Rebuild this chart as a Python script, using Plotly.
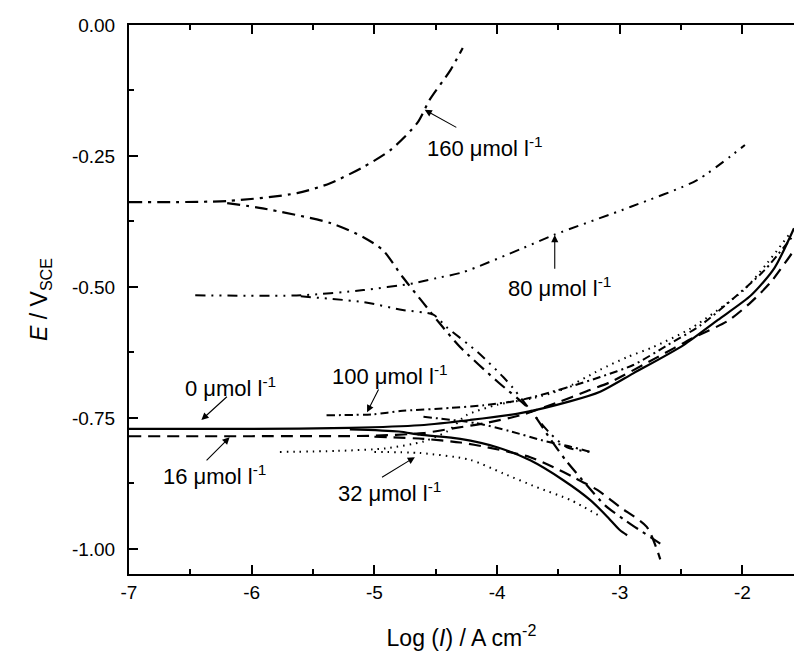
import plotly.graph_objects as go

# ---------------- data (log I / A cm-2 , E / V_SCE) ----------------
# 0 umol/l  (solid)
c0_an_x = [-7.0, -6.0, -5.2, -4.63, -4.22, -3.81, -3.40, -3.16, -2.89, -2.48, -2.20, -1.93, -1.74, -1.58]
c0_an_y = [-0.771, -0.771, -0.769, -0.764, -0.754, -0.741, -0.718, -0.700, -0.665, -0.611, -0.563, -0.516, -0.464, -0.388]
c0_ca_x = [-5.2, -4.8, -4.63, -4.3, -4.0, -3.73, -3.46, -3.24, -3.1, -3.0, -2.94]
c0_ca_y = [-0.772, -0.776, -0.782, -0.790, -0.806, -0.831, -0.869, -0.907, -0.939, -0.964, -0.974]

# 16 umol/l (long dash)
c16_an_x = [-7.0, -6.0, -5.0, -4.6, -4.36, -4.1, -3.81, -3.5, -3.27, -3.08, -2.7, -2.40, -2.12, -1.93, -1.77, -1.58]
c16_an_y = [-0.785, -0.785, -0.784, -0.779, -0.770, -0.760, -0.745, -0.720, -0.699, -0.682, -0.635, -0.597, -0.565, -0.529, -0.491, -0.430]
c16_ca_x = [-5.0, -4.6, -4.3, -4.08, -3.73, -3.54, -3.38, -3.18, -3.0, -2.78, -2.67]
c16_ca_y = [-0.786, -0.790, -0.797, -0.806, -0.825, -0.844, -0.863, -0.888, -0.920, -0.958, -1.02]

# 32 umol/l (dotted)
c32_an_x = [-5.77, -5.3, -4.9, -4.6, -4.4, -4.25, -4.0, -3.7, -3.46, -3.16, -2.94, -2.73, -2.42, -1.99, -1.80, -1.62]
c32_an_y = [-0.815, -0.813, -0.808, -0.795, -0.775, -0.745, -0.725, -0.712, -0.695, -0.658, -0.634, -0.615, -0.579, -0.506, -0.455, -0.400]
c32_ca_x = [-5.0, -4.63, -4.22, -3.95, -3.68, -3.40, -3.18]
c32_ca_y = [-0.815, -0.817, -0.830, -0.856, -0.882, -0.907, -0.935]

# 80 umol/l (dash-dot-dot)
c80_an_x = [-6.46, -5.6, -5.09, -4.68, -4.49, -4.28, -3.79, -3.54, -2.91, -2.37, -1.98]
c80_an_y = [-0.516, -0.516, -0.506, -0.493, -0.483, -0.472, -0.426, -0.401, -0.347, -0.296, -0.229]
c80_ca_x = [-5.6, -5.09, -4.77, -4.52, -4.41, -4.16, -3.95, -3.87, -3.73, -3.57, -3.43, -3.24]
c80_ca_y = [-0.518, -0.529, -0.544, -0.553, -0.577, -0.624, -0.672, -0.693, -0.735, -0.779, -0.806, -0.815]

# 100 umol/l (dash-dot)
c100_an_x = [-5.39, -5.0, -4.79, -4.38, -4.11, -3.81, -3.40, -3.16, -2.89, -2.61, -2.34, -2.07, -1.82, -1.58]
c100_an_y = [-0.745, -0.743, -0.737, -0.731, -0.726, -0.716, -0.690, -0.672, -0.649, -0.611, -0.573, -0.521, -0.468, -0.400]
c100_ca_x = [-4.6, -4.17, -3.9, -3.6, -3.4, -3.24]
c100_ca_y = [-0.748, -0.760, -0.775, -0.795, -0.805, -0.815]

# 160 umol/l (dash-dot)
c160_an_x = [-7.0, -6.2, -5.63, -5.36, -5.09, -4.87, -4.65, -4.55, -4.38, -4.28]
c160_an_y = [-0.338, -0.336, -0.321, -0.302, -0.271, -0.239, -0.187, -0.143, -0.086, -0.044]
c160_ca_x = [-6.2, -5.91, -5.36, -5.09, -4.93, -4.77, -4.60, -4.47, -4.30, -4.0, -3.73, -3.57, -3.44, -3.27, -3.12, -2.96, -2.67]
c160_ca_y = [-0.340, -0.350, -0.378, -0.405, -0.430, -0.481, -0.531, -0.569, -0.615, -0.680, -0.735, -0.789, -0.831, -0.878, -0.917, -0.945, -0.990]

labels = ["0 μmol l<sup>-1</sup>", "16 μmol l<sup>-1</sup>", "32 μmol l<sup>-1</sup>",
          "80 μmol l<sup>-1</sup>", "100 μmol l<sup>-1</sup>", "160 μmol l<sup>-1</sup>"]
label_x = [-6.17, -6.30, -4.88, -3.49, -4.87, -4.10]
label_y = [-0.691, -0.859, -0.892, -0.500, -0.668, -0.233]
arrow_tail_x = [-6.19, -6.38, -4.95, -3.53, -4.96, -4.32]
arrow_tail_y = [-0.707, -0.834, -0.865, -0.468, -0.693, -0.197]
arrow_head_x = [-6.41, -6.18, -4.67, -3.53, -5.06, -4.59]
arrow_head_y = [-0.754, -0.787, -0.825, -0.401, -0.739, -0.162]

x_ticks = [-7, -6, -5, -4, -3, -2]
y_ticks = [0.0, -0.25, -0.5, -0.75, -1.0]
y_ticklabels = ["0.00", "-0.25", "-0.50", "-0.75", "-1.00"]

# ---------------- figure ----------------
series = [
    (c0_an_x, c0_an_y, c0_ca_x, c0_ca_y, "solid", 2.2),
    (c16_an_x, c16_an_y, c16_ca_x, c16_ca_y, "12px,7px", 2.2),
    (c32_an_x, c32_an_y, c32_ca_x, c32_ca_y, "1.5px,5px", 2.0),
    (c80_an_x, c80_an_y, c80_ca_x, c80_ca_y, "10px,6px,2px,6px,2px,6px", 2.0),
    (c100_an_x, c100_an_y, c100_ca_x, c100_ca_y, "8px,4px,2px,4px", 2.0),
    (c160_an_x, c160_an_y, c160_ca_x, c160_ca_y, "13px,6px,3px,6px", 2.2),
]

fig = go.Figure()
for ax_, ay_, cx_, cy_, dash, w in series:
    for xs, ys in ((ax_, ay_), (cx_, cy_)):
        fig.add_trace(go.Scatter(x=xs, y=ys, mode="lines",
                                 line=dict(color="black", width=w, dash=dash,
                                           shape="spline", smoothing=0.7),
                                 showlegend=False, hoverinfo="skip"))

for t, tx, ty, x0, y0, x1, y1 in zip(labels, label_x, label_y,
                                      arrow_tail_x, arrow_tail_y,
                                      arrow_head_x, arrow_head_y):
    fig.add_annotation(x=tx, y=ty, text=t, showarrow=False,
                       font=dict(family="Liberation Sans, Arial", size=22, color="black"))
    fig.add_annotation(x=x1, y=y1, ax=x0, ay=y0, axref="x", ayref="y",
                       text="", showarrow=True, arrowhead=2, arrowsize=1.3,
                       arrowwidth=1.1, arrowcolor="black")

axis_font = dict(family="Liberation Sans, Arial", size=19, color="black")
fig.update_xaxes(range=[-7, -1.58], tickvals=x_ticks, ticktext=[str(v) for v in x_ticks],
                 ticks="inside", ticklen=9, tickwidth=2, tickcolor="black",
                 minor=dict(dtick=0.5, tick0=-7, ticks="inside", ticklen=5, tickwidth=2, tickcolor="black"),
                 showline=True, linewidth=2, linecolor="black", mirror="allticks",
                 showgrid=False, zeroline=False, tickfont=axis_font,
                 title=dict(text="Log (<i>I</i>) / A cm<sup>-2</sup>",
                            font=dict(family="Liberation Sans, Arial", size=23, color="black"),
                            standoff=28))
fig.update_yaxes(range=[-1.048, 0.0], tickvals=y_ticks, ticktext=y_ticklabels,
                 ticks="inside", ticklen=9, tickwidth=2, tickcolor="black",
                 minor=dict(dtick=0.125, tick0=0, ticks="inside", ticklen=5, tickwidth=2, tickcolor="black"),
                 showline=True, linewidth=2, linecolor="black", mirror=False,
                 showgrid=False, zeroline=False, tickfont=axis_font,
                 ticklabelstandoff=8,
                 title=dict(text="<i>E</i> / V<sub>SCE</sub>",
                            font=dict(family="Liberation Sans, Arial", size=23, color="black"),
                            standoff=18))
fig.update_layout(width=794, height=659, plot_bgcolor="white", paper_bgcolor="white",
                  margin=dict(l=129, r=0, t=25, b=85), showlegend=False)

fig.write_html("out.html")
